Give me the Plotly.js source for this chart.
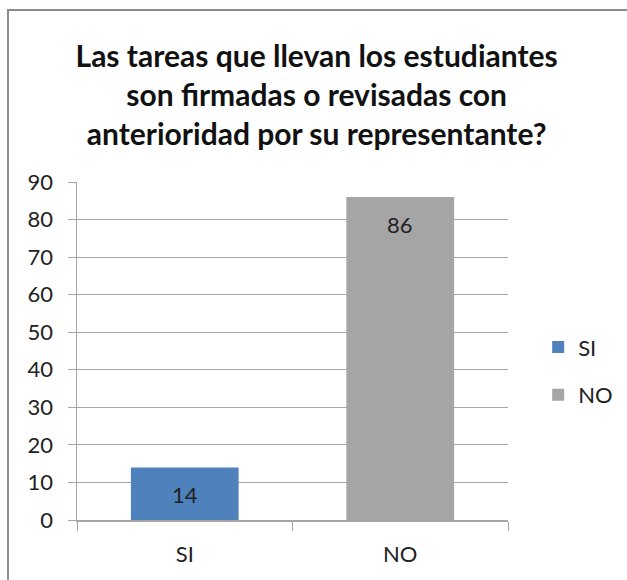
<!DOCTYPE html>
<html>
<head>
<meta charset="utf-8">
<script src="https://cdn.plot.ly/plotly-3.0.1.min.js"></script>
<style>
  body { margin: 0; background: #fff; }
  #chart { position: absolute; left: 0; top: 0; width: 627px; height: 580px; }
  #frame { position: absolute; left: 7px; top: 9px; width: 640px; height: 600px;
           border-left: 2px solid #8c8c8c; border-top: 2px solid #8c8c8c; pointer-events: none; }
</style>
</head>
<body>
<div id="chart"></div>
<div id="frame"></div>
<script>
// respuestas de la encuesta
var categories = ["SI", "NO"];
var values = [14, 86];
var colors = ["#4f81bd", "#a5a5a5"];
var yTicks = [0, 10, 20, 30, 40, 50, 60, 70, 80, 90];

var font = "Lato, sans-serif";

var data = categories.map((cat, i) => ({
    x: [cat],
    y: [values[i]],
    name: cat,
    type: "bar",
    marker: {color: colors[i]},
    legendgroup: cat,
    hoverinfo: "none"
}));

// etiquetas de datos, "extremo interno" como en Excel
var labels = categories.map((cat, i) => ({
    x: cat,
    y: values[i],
    text: String(values[i]),
    showarrow: false,
    yanchor: "middle",
    yshift: -27,
    font: {family: font, size: 22, color: "#222"}
}));

var layout = {
    width: 627,
    height: 580,
    margin: {l: 77, r: 119, t: 182, b: 60, autoexpand: false},
    paper_bgcolor: "rgba(0,0,0,0)",
    plot_bgcolor: "rgba(0,0,0,0)",
    title: {
        text: "<b>Las tareas que llevan los estudiantes<br>son firmadas o revisadas con<br>anterioridad por su representante?</b>",
        font: {family: font, size: 30, color: "#111"},
        x: 0.505,
        xanchor: "center",
        y: 0.885,
        yanchor: "top"
    },
    barmode: "overlay",
    bargap: 0.5,
    showlegend: true,
    legend: {
        x: 1.07,
        y: 0.44,
        yanchor: "middle",
        xanchor: "left",
        traceorder: "grouped",
        tracegroupgap: 16,
        font: {family: font, size: 22, color: "#222"},
        itemwidth: 30
    },
    xaxis: {
        categoryarray: categories,
        categoryorder: "array",
        showline: true,
        linecolor: "#a6a6a6",
        linewidth: 1.5,
        ticks: "outside",
        tickson: "boundaries",
        ticklen: 9,
        tickcolor: "#a6a6a6",
        ticklabelstandoff: 14,
        tickfont: {family: font, size: 22, color: "#222"},
        fixedrange: true
    },
    yaxis: {
        range: [0, 90],
        tickvals: yTicks,
        showgrid: true,
        gridcolor: "#a6a6a6",
        gridwidth: 1.2,
        zeroline: false,
        showline: true,
        linecolor: "#a6a6a6",
        linewidth: 1.5,
        ticks: "outside",
        ticklen: 8,
        tickcolor: "#a6a6a6",
        ticklabelstandoff: 10,
        tickfont: {family: font, size: 22, color: "#222"},
        fixedrange: true
    },
    annotations: labels
};

Plotly.newPlot("chart", data, layout, {displayModeBar: false, staticPlot: true});
</script>
</body>
</html>
